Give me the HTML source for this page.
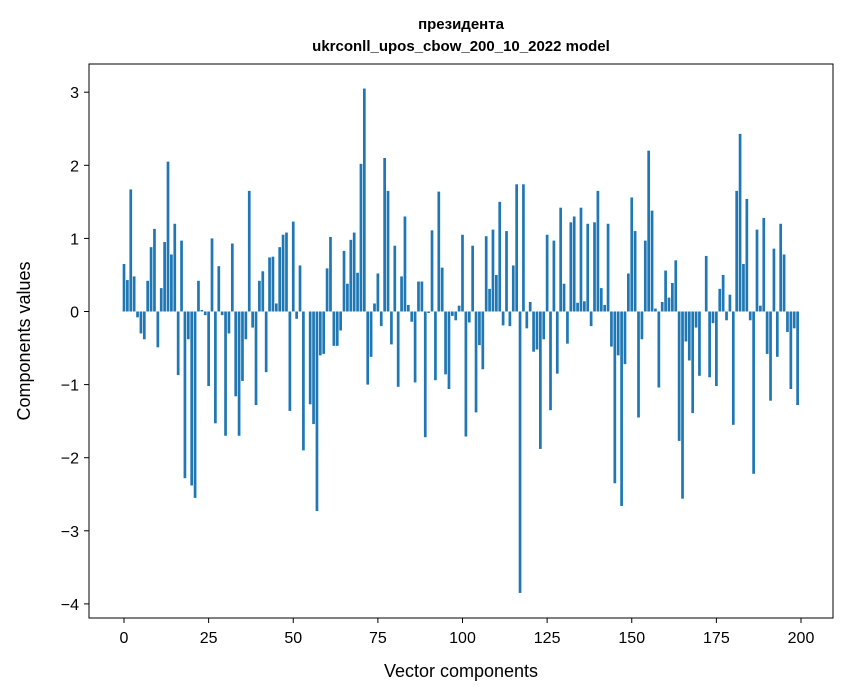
<!DOCTYPE html>
<html><head><meta charset="utf-8"><style>
body{margin:0;background:#fff;}
svg{display:block;font-family:"Liberation Sans","DejaVu Sans",sans-serif;}
</style></head><body>
<svg id="chart" width="847" height="696" viewBox="0 0 847 696">
<rect width="847" height="696" fill="#fff"/>
<text x="461" y="29" text-anchor="middle" font-size="15" font-weight="bold">президента</text>
<text x="461" y="51" text-anchor="middle" font-size="15" font-weight="bold">ukrconll_upos_cbow_200_10_2022 model</text>
<g id="bars"></g>
<g id="axes"></g>
<rect x="89" y="64" width="744" height="554" fill="none" stroke="#000" stroke-width="1"/>
<text x="461" y="677" text-anchor="middle" font-size="18">Vector components</text>
<text transform="translate(30,341) rotate(-90)" text-anchor="middle" font-size="18">Components values</text>
</svg>
<script>
const values = [0.65,0.43,1.67,0.48,-0.08,-0.3,-0.38,0.42,0.88,1.13,
-0.49,0.32,0.95,2.05,0.78,1.2,-0.87,0.97,-2.28,-0.38,
-2.38,-2.55,0.42,0.02,-0.05,-1.02,1.0,-1.53,0.62,-0.05,
-1.7,-0.3,0.93,-1.16,-1.7,-0.95,-0.38,1.65,-0.22,-1.28,
0.42,0.55,-0.83,0.74,0.75,0.11,0.88,1.05,1.08,-1.36,
1.23,-0.1,0.63,-1.9,0.0,-1.27,-1.54,-2.73,-0.6,-0.58,
0.59,1.02,-0.47,-0.47,-0.26,0.83,0.38,0.98,1.08,0.53,
2.02,3.05,-1.0,-0.62,0.11,0.52,-0.2,2.1,1.65,-0.45,
0.9,-1.03,0.48,1.3,0.09,-0.14,-0.97,0.41,0.41,-1.72,
-0.02,1.11,-0.94,1.64,0.6,-0.86,-1.06,-0.06,-0.12,0.08,
1.05,-1.71,-0.15,0.9,-1.38,-0.46,-0.79,1.03,0.31,1.12,
0.5,1.5,-0.19,1.1,-0.2,0.63,1.74,-3.85,1.74,-0.23,
0.13,-0.55,-0.52,-1.88,-0.38,1.05,-1.35,0.97,-0.85,1.42,
0.38,-0.44,1.22,1.3,0.12,1.42,0.14,1.2,-0.2,1.22,
1.65,0.32,0.09,1.2,-0.48,-2.35,-0.6,-2.66,-0.72,0.52,
1.56,1.1,-1.45,-0.38,0.97,2.2,1.38,0.04,-1.04,0.13,
0.56,0.19,0.39,0.7,-1.77,-2.56,-0.41,-0.67,-1.39,-0.22,
-0.88,0.0,0.76,-0.9,-0.16,-1.02,0.31,0.5,-0.12,0.23,
-1.55,1.65,2.43,0.65,1.54,-0.12,-2.22,1.12,0.08,1.28,
-0.58,-1.22,0.86,-0.62,1.2,0.78,-0.28,-1.06,-0.23,-1.28];
const xTicks = [0,25,50,75,100,125,150,175,200];
const yTicks = [-4,-3,-2,-1,0,1,2,3];

const NS = "http://www.w3.org/2000/svg";
const xScale = v => 124 + v * (801 - 124) / 200;
const yScale = v => 311.5 - v * 73.1;
const bw = 0.8 * (801 - 124) / 200;

const bars = document.getElementById('bars');
values.forEach((v, i) => {
  const r = document.createElementNS(NS, 'rect');
  const y0 = yScale(0), y1 = yScale(v);
  r.setAttribute('x', xScale(i) - bw / 2);
  r.setAttribute('y', Math.min(y0, y1));
  r.setAttribute('width', bw);
  r.setAttribute('height', Math.abs(y1 - y0));
  r.setAttribute('fill', '#1f77b4');
  
  
  bars.appendChild(r);
});

const axes = document.getElementById('axes');
xTicks.forEach(t => {
  const x = xScale(t);
  const l = document.createElementNS(NS, 'line');
  l.setAttribute('x1', x); l.setAttribute('x2', x);
  l.setAttribute('y1', 618); l.setAttribute('y2', 623);
  l.setAttribute('stroke', '#000');
  
  
  axes.appendChild(l);
  const tx = document.createElementNS(NS, 'text');
  tx.setAttribute('x', x); tx.setAttribute('y', 643);
  tx.setAttribute('text-anchor', 'middle');
  tx.setAttribute('font-size', '16');
  tx.textContent = t;
  
  
  axes.appendChild(tx);
});
yTicks.forEach(t => {
  const y = yScale(t);
  const l = document.createElementNS(NS, 'line');
  l.setAttribute('x1', 84); l.setAttribute('x2', 89);
  l.setAttribute('y1', y); l.setAttribute('y2', y);
  l.setAttribute('stroke', '#000');
  
  
  axes.appendChild(l);
  const tx = document.createElementNS(NS, 'text');
  tx.setAttribute('x', 79); tx.setAttribute('y', y + 6);
  tx.setAttribute('text-anchor', 'end');
  tx.setAttribute('font-size', '16');
  tx.textContent = t < 0 ? '\u2212' + Math.abs(t) : t;
  
  
  axes.appendChild(tx);
});
</script>
</body></html>
